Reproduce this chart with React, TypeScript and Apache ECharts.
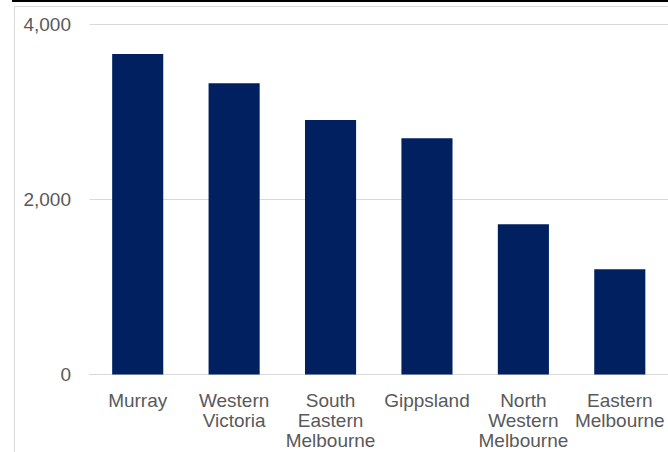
import React, { useEffect, useRef } from "react";
import * as echarts from "echarts";

// Regions and their counts
const regions = [
  "Murray",
  "Western Victoria",
  "South Eastern Melbourne",
  "Gippsland",
  "North Western Melbourne",
  "Eastern Melbourne",
];
const counts = [3658, 3323, 2904, 2696, 1714, 1201];
const yTicks = { min: 0, max: 4000, interval: 2000 };

const LABEL_COLOR = "#595959";
const LINE_COLOR = "#d9d9d9";
const BAR_COLOR = "#002060";
const FONT = "'Liberation Sans', Arial, sans-serif";

export default function App() {
  const ref = useRef<HTMLDivElement>(null);

  useEffect(() => {
    if (!ref.current) return;
    const chart = echarts.init(ref.current, null, { renderer: "svg" });
    chart.setOption({
      animation: false,
      backgroundColor: "#ffffff",
      textStyle: { fontFamily: FONT },
      grid: { left: 89.5, right: 0, top: 24, bottom: 77.5, containLabel: false },
      graphic: [
        {
          type: "rect",
          shape: { x: 12, y: 0, width: 660, height: 2 },
          style: { fill: "#000000" },
          silent: true,
        },
        {
          type: "rect",
          shape: { x: 14.5, y: 6.5, width: 700, height: 500 },
          style: { fill: "none", stroke: LINE_COLOR, lineWidth: 1 },
          silent: true,
          z: -1,
        },
      ],
      xAxis: {
        type: "category",
        data: regions,
        axisLine: { show: true, lineStyle: { color: LINE_COLOR, width: 1 } },
        axisTick: { show: false },
        axisLabel: {
          interval: 0,
          color: LABEL_COLOR,
          fontSize: 19,
          lineHeight: 20,
          margin: 15.5,
          fontFamily: FONT,
          formatter: (v: string) => v.split(" ").join("\n"),
        },
      },
      yAxis: {
        type: "value",
        min: yTicks.min,
        max: yTicks.max,
        interval: yTicks.interval,
        axisLine: { show: false },
        axisTick: { show: false },
        splitLine: { show: true, lineStyle: { color: LINE_COLOR, width: 1 } },
        axisLabel: {
          color: LABEL_COLOR,
          fontSize: 19,
          margin: 18.5,
          fontFamily: FONT,
          formatter: (v: number) => v.toLocaleString("en-US"),
        },
      },
      series: [
        {
          type: "bar",
          data: counts,
          barWidth: "53%",
          itemStyle: { color: BAR_COLOR },
        },
      ],
    });
    return () => chart.dispose();
  }, []);

  return (
    <div
      ref={ref}
      style={{ position: "fixed", left: 0, top: 0, width: 668, height: 452 }}
    />
  );
}
